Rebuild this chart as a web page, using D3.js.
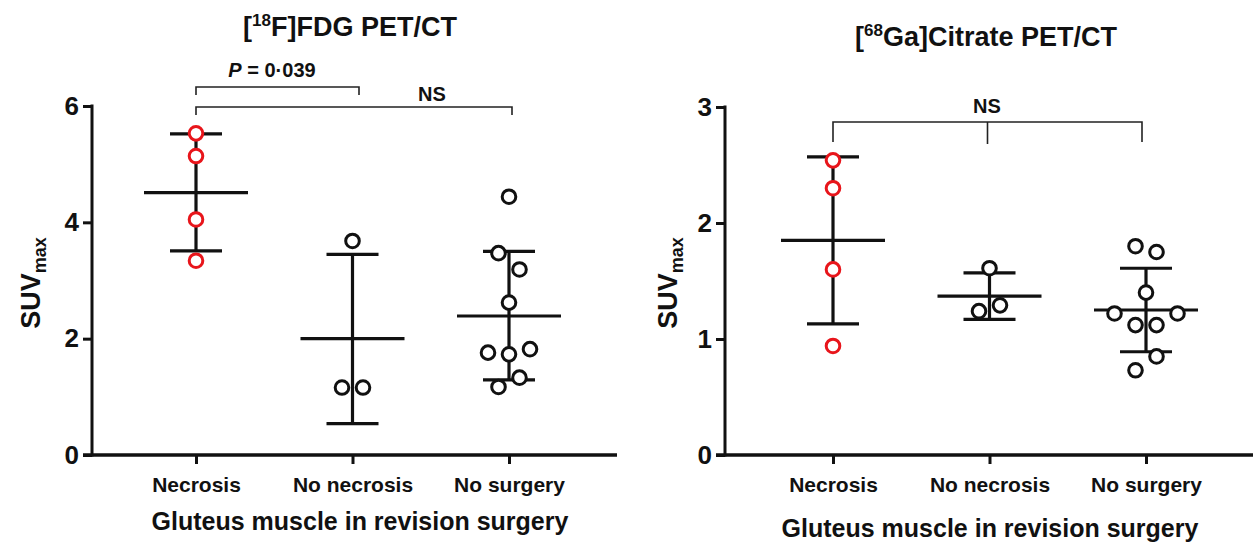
<!DOCTYPE html>
<html><head><meta charset="utf-8">
<script src="https://cdn.jsdelivr.net/npm/d3@7"></script>
<style>
html,body{margin:0;padding:0;background:#fff;}
svg text{font-family:"Liberation Sans",Arial,sans-serif;font-weight:bold;fill:#111;}
</style></head>
<body><svg id="c" width="1253" height="542"></svg>
<script>
// ---------- data ----------
const categories = ["Necrosis", "No necrosis", "No surgery"];

// [18F]FDG SUVmax individual values per group
const fdgNecrosis   = [5.53, 5.14, 4.05, 3.34];
const fdgNoNecrosis = [3.68, 1.16, 1.16];
const fdgNoSurgery  = [4.44, 3.47, 3.19, 2.62, 1.76, 1.73, 1.82, 1.33, 1.17];
const fdgJitter = [[0,0,0,0],[0,-1,1],[0,-1,1,0,-2,0,2,1,-1]];
const fdgMean  = [4.51, 2.00, 2.39];
const fdgUpper = [5.52, 3.45, 3.50];
const fdgLower = [3.51, 0.54, 1.29];
const fdgTicks = [0, 2, 4, 6];

// [68Ga]Citrate SUVmax
const gaNecrosis   = [2.54, 2.30, 1.60, 0.94];
const gaNoNecrosis = [1.61, 1.29, 1.24];
const gaNoSurgery  = [1.80, 1.75, 1.40, 1.22, 1.22, 1.12, 1.12, 0.85, 0.73];
const gaJitter = [[0,0,0,0],[0,1,-1],[-1,1,0,-3,3,-1,1,1,-1]];
const gaMean  = [1.85, 1.37, 1.25];
const gaUpper = [2.57, 1.57, 1.61];
const gaLower = [1.13, 1.17, 0.89];
const gaTicks = [0, 1, 2, 3];

const pTextLabel = "0·039";
// ---------- drawing ----------
const svg = d3.select("#c");
const RED = "#e8151b";

function panel(o) {
  const g = svg.append("g");
  const x = d3.scalePoint().domain(categories).range(o.xr);
  const y = d3.scaleLinear().domain([0, o.ymax]).range([455, o.ytop]);
  const groups = [o.g0, o.g1, o.g2];

  // title
  const t = g.append("text").attr("x", o.titleX).attr("y", o.titleY)
    .attr("text-anchor", "middle").style("font-size", "27px");
  t.append("tspan").text("[");
  t.append("tspan").text(o.iso).style("font-size", "17px").attr("dy", -10);
  t.append("tspan").text(o.titleRest).attr("dy", 10);

  // y axis
  const ya = d3.axisLeft(y).tickValues(o.ticks).tickSize(9).tickPadding(4).tickFormat(d3.format("d"));
  const yg = g.append("g").attr("transform", `translate(${o.ax},0)`).call(ya);
  yg.select(".domain").remove();
  yg.selectAll(".tick line").attr("stroke", "#111").attr("stroke-width", 3);
  yg.selectAll(".tick text").style("font-size", "26px").attr("font-family", null);
  g.append("line").attr("x1", o.ax).attr("x2", o.ax).attr("y1", y(o.ymax) - 1.5).attr("y2", 456.5)
    .attr("stroke", "#111").attr("stroke-width", 3);

  // x axis
  g.append("line").attr("x1", o.ax - 9).attr("x2", o.xend).attr("y1", 455).attr("y2", 455)
    .attr("stroke", "#111").attr("stroke-width", 3.5);
  const xa = d3.axisBottom(x).tickSize(9).tickPadding(13);
  const xg = g.append("g").attr("transform", "translate(0,455)").call(xa);
  xg.select(".domain").remove();
  xg.selectAll(".tick line").attr("stroke", "#111").attr("stroke-width", 3);
  xg.selectAll(".tick text").style("font-size", "21px").attr("font-family", null);

  // axis titles
  g.append("text").attr("x", o.xtitleX).attr("y", o.xtitleY).attr("text-anchor", "middle")
    .style("font-size", "25px").text("Gluteus muscle in revision surgery");
  const yt = g.append("text").attr("transform", `translate(${o.ytitleX},283) rotate(-90)`)
    .attr("text-anchor", "middle").style("font-size", "27px");
  yt.append("tspan").text("SUV");
  yt.append("tspan").text("max").style("font-size", "18px").attr("dy", 6);

  // error bars
  categories.forEach((c, i) => {
    const cx = x(c);
    g.append("line").attr("x1", cx).attr("x2", cx).attr("y1", y(o.upper[i])).attr("y2", y(o.lower[i]))
      .attr("stroke", "#111").attr("stroke-width", 3.2);
    [o.upper[i], o.lower[i]].forEach(v => {
      g.append("line").attr("x1", cx - 26).attr("x2", cx + 26).attr("y1", y(v)).attr("y2", y(v))
        .attr("stroke", "#111").attr("stroke-width", 3.2);
    });
    g.append("line").attr("x1", cx - 52).attr("x2", cx + 52).attr("y1", y(o.mean[i])).attr("y2", y(o.mean[i]))
      .attr("stroke", "#111").attr("stroke-width", 3.2);
  });

  // points
  groups.forEach((vals, i) => {
    const cx = x(categories[i]);
    g.selectAll(null).data(vals).enter().append("circle")
      .attr("cx", (d, j) => cx + o.jitter[i][j] * 10.5)
      .attr("cy", d => y(d)).attr("r", 6.8)
      .attr("fill", "#fff").attr("stroke", i === 0 ? RED : "#111").attr("stroke-width", 3);
  });
  return {x, y, g};
}

const L = panel({
  xr: [196, 509], ax: 92, xend: 617, ymax: 6, ytop: 106, ticks: fdgTicks,
  g0: fdgNecrosis, g1: fdgNoNecrosis, g2: fdgNoSurgery, jitter: fdgJitter,
  mean: fdgMean, upper: fdgUpper, lower: fdgLower,
  iso: "18", titleRest: "F]FDG PET/CT", titleX: 350, titleY: 36,
  xtitleX: 360, xtitleY: 530, ytitleX: 40
});
const R = panel({
  xr: [833, 1146], ax: 725, xend: 1253, ymax: 3, ytop: 107, ticks: gaTicks,
  g0: gaNecrosis, g1: gaNoNecrosis, g2: gaNoSurgery, jitter: gaJitter,
  mean: gaMean, upper: gaUpper, lower: gaLower,
  iso: "68", titleRest: "Ga]Citrate PET/CT", titleX: 986, titleY: 46,
  xtitleX: 990, xtitleY: 537, ytitleX: 677
});

// significance brackets
function bracket(g, x1, x2, yy, drop) {
  g.append("path").attr("d", `M${x1},${yy + drop}V${yy}H${x2}V${yy + drop}`)
    .attr("fill", "none").attr("stroke", "#222").attr("stroke-width", 1.6);
}
bracket(L.g, L.x("Necrosis"), 359, 87, 8);
bracket(L.g, L.x("Necrosis"), L.x("No surgery") + 3, 107, 8);
const pt = L.g.append("text").attr("x", 272).attr("y", 77).attr("text-anchor", "middle").style("font-size", "20px");
pt.append("tspan").text("P").style("font-style", "italic");
pt.append("tspan").text(" = " + pTextLabel);
L.g.append("text").attr("x", 432).attr("y", 101).attr("text-anchor", "middle").style("font-size", "20px").text("NS");

bracket(R.g, R.x("Necrosis"), R.x("No surgery") - 4, 122, 20);
R.g.append("line").attr("x1", R.x("No necrosis") - 2).attr("x2", R.x("No necrosis") - 2).attr("y1", 122).attr("y2", 144)
  .attr("stroke", "#222").attr("stroke-width", 1.6);
R.g.append("text").attr("x", 987).attr("y", 113).attr("text-anchor", "middle").style("font-size", "20px").text("NS");
</script></body></html>
